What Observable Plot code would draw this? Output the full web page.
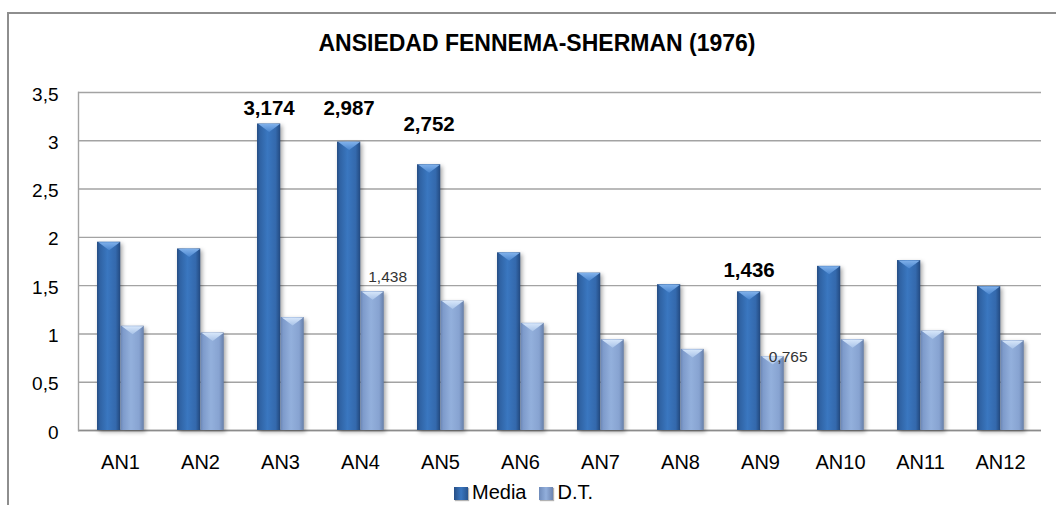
<!DOCTYPE html>
<html>
<head>
<meta charset="utf-8">
<script src="https://cdn.jsdelivr.net/npm/d3@7"></script>
<script src="https://cdn.jsdelivr.net/npm/@observablehq/plot@0.6"></script>
<style>
  html, body { margin: 0; padding: 0; background: #fff; overflow: hidden; width: 1056px; height: 505px; }
  #wrap { position: relative; width: 1056px; height: 505px; font-family: "Liberation Sans", Arial, sans-serif; }
  #frame { position: absolute; left: 7px; top: 12px; width: 2000px; height: 2000px; border: 2px solid #8e8e8e; box-sizing: border-box; }
  #title { position: absolute; left: 0; width: 1074px; top: 32px; text-align: center; font-weight: bold; font-size: 23px; line-height: 23px; color: #000; letter-spacing: 0px; }
  #legend { position: absolute; top: 482px; left: 454px; font-size: 20px; line-height: 20px; color: #000; white-space: nowrap; }
  .sw { display: inline-block; width: 14px; height: 13px; vertical-align: -1px; margin-right: 4px; box-shadow: 1px 1px 1px rgba(0,0,0,0.3); }
  .sw.m { background: linear-gradient(90deg, #274f86, #3a76bf 50%, #28548e); }
  .sw.d { background: linear-gradient(90deg, #6f8bba, #92afdc 50%, #6d84b0); margin-left: 13px; }
  svg { position: absolute; left: 0; top: 0; }
</style>
</head>
<body>
<div id="wrap">
  <div id="frame"></div>
  <div id="chart"></div>
  <div id="title">ANSIEDAD FENNEMA-SHERMAN (1976)</div>
  <div id="legend"><span class="sw m"></span>Media<span class="sw d"></span>D.T.</div>
</div>
<script>
// ---- data ----
const categories = ["AN1","AN2","AN3","AN4","AN5","AN6","AN7","AN8","AN9","AN10","AN11","AN12"];
const media = [1.95, 1.88, 3.174, 2.987, 2.752, 1.84, 1.63, 1.51, 1.436, 1.70, 1.76, 1.49];
const dt    = [1.08, 1.01, 1.17, 1.438, 1.34, 1.11, 0.94, 0.84, 0.765, 0.94, 1.03, 0.93];
const yTicks = [0, 0.5, 1, 1.5, 2, 2.5, 3, 3.5];

const rows = categories.map((c, i) => ({cat: c, media: media[i], dt: dt[i]}));
const fmt = v => String(v).replace(".", ",");

// ---- layout/style ----
const W = 1056, H = 505;
const mL = 78, mR = 15, mT = 92, mB = 75;
const band = (W - mL - mR) / categories.length;
const mIn = [17, band - 40.5];   // media bar insets (left, right)
const dIn = [40.5, band - 64];   // dt bar insets
const mCenter = (17 + 40.5) / 2 - band / 2;
const dCenter = (40.5 + 64) / 2 - band / 2;
const halfW = (40.5 - 17) / 2;

const chevron = {
  draw(ctx) {
    ctx.moveTo(-halfW + 1, 0);
    ctx.lineTo(halfW - 1, 0);
    ctx.lineTo(0, 8);
    ctx.closePath();
  }
};

function label(cat, key, dx, dy, bold) {
  return Plot.text(rows.filter(d => d.cat === cat), {
    x: "cat", y: key, text: d => fmt(d[key]),
    dx, dy, lineAnchor: "bottom",
    fontSize: bold ? 20.5 : 15.5, fontWeight: bold ? "bold" : "normal",
    fill: bold ? "#000" : "#333"
  });
}

const chart = Plot.plot({
  width: W, height: H,
  marginLeft: mL, marginRight: mR, marginTop: mT, marginBottom: mB,
  style: {fontFamily: "'Liberation Sans', Arial, sans-serif", background: "transparent", overflow: "visible"},
  x: {type: "band", domain: categories, padding: 0, label: null},
  y: {domain: [0, 3.5], label: null},
  marks: [
    Plot.gridY(yTicks, {stroke: "#a3a3a3", strokeOpacity: 1, strokeWidth: 1.4}),
    Plot.ruleY([0], {stroke: "#8c8c8c", strokeWidth: 1.4}),
    Plot.frame({anchor: "left", stroke: "#a3a3a3", strokeWidth: 1.4}),
    Plot.barY(rows, {x: "cat", y: "media", fill: "url(#gMedia)", insetLeft: mIn[0], insetRight: mIn[1], className: "bars"}),
    Plot.barY(rows, {x: "cat", y: "dt", fill: "url(#gDT)", insetLeft: dIn[0], insetRight: dIn[1], className: "bars"}),
    Plot.dot(rows, {x: "cat", y: "media", dx: mCenter, symbol: chevron, fill: "url(#gChevM)", stroke: "none", r: 5}),
    Plot.dot(rows, {x: "cat", y: "dt", dx: dCenter, symbol: chevron, fill: "url(#gChevD)", stroke: "none", r: 5}),
    Plot.axisY(yTicks, {tickSize: 0, tickPadding: 20, tickFormat: fmt, fontSize: 19, dy: 2, fill: "#000"}),
    Plot.axisX({tickSize: 0, tickPadding: 24, fontSize: 20, fill: "#000"}),
    label("AN3", "media", mCenter, -9, true),
    label("AN4", "media", mCenter, -27, true),
    label("AN5", "media", mCenter, -34, true),
    label("AN9", "media", mCenter, -15, true),
    label("AN4", "dt", dCenter + 15, -9.5, false),
    label("AN9", "dt", dCenter + 15.5, 5, false)
  ]
});

const defs = d3.select(chart).insert("defs", ":first-child");
function grad(id, stops, vertical) {
  const g = defs.append("linearGradient").attr("id", id)
    .attr("x1", 0).attr("y1", 0).attr("x2", vertical ? 0 : 1).attr("y2", vertical ? 1 : 0);
  stops.forEach(([o, c]) => g.append("stop").attr("offset", o).attr("stop-color", c));
}
grad("gMedia", [[0, "#264d83"], [0.12, "#2f62a3"], [0.45, "#3a77c0"], [0.8, "#3469ad"], [1, "#234a80"]]);
grad("gDT", [[0, "#6a85b3"], [0.12, "#7e9bcb"], [0.45, "#93b0dc"], [0.8, "#87a3d1"], [1, "#657ea9"]]);
grad("gChevM", [[0, "#7fb0ea"], [1, "#4a86cf"]], true);
grad("gChevD", [[0, "#d6e6fa"], [1, "#a9c3e8"]], true);
d3.select(chart).selectAll("g.bars").style("filter", "drop-shadow(2px 2px 2px rgba(0,0,0,0.35))");

document.getElementById("chart").appendChild(chart);
</script>
</body>
</html>
